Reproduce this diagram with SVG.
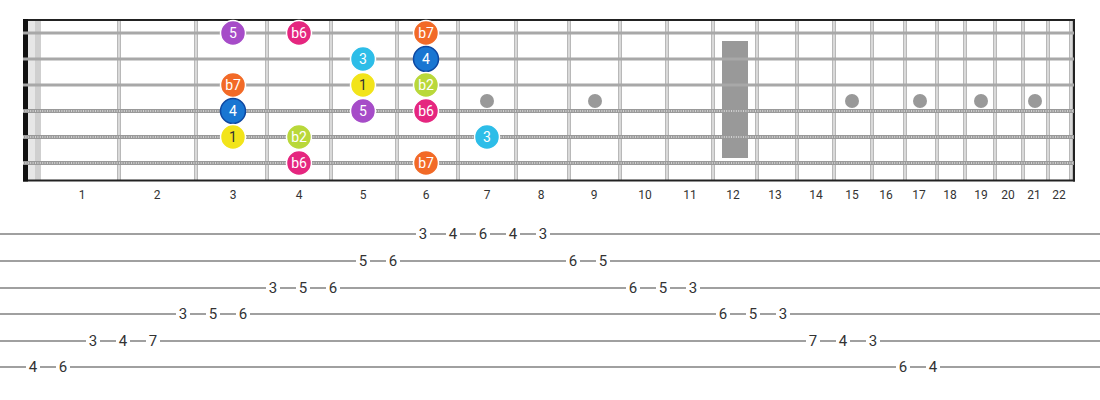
<svg xmlns="http://www.w3.org/2000/svg" width="1100" height="400" viewBox="0 0 1100 400">
<style>
.fret{stroke:#b8b8b8;stroke-width:4}
.fretin{stroke:#f0f0f0;stroke-width:1.2}
.plain{stroke:#a8a8a8;stroke-width:3}
.wound{stroke:#999;stroke-width:4}
.woundin{stroke:#e4e4e4;stroke-width:1.6;stroke-dasharray:1 1.4}
.flab{font-family:Roboto,"Liberation Sans",sans-serif;font-size:12px;fill:#333;text-anchor:middle}
.dot{fill:#999}
.note circle{stroke:#fff;stroke-width:1.5}
.note text{font-family:Roboto,"Liberation Sans",sans-serif;font-size:14px;fill:#fff;text-anchor:middle}
.tabline{stroke:#a0a0a0;stroke-width:2}
.tab text{font-family:Roboto,"Liberation Sans",sans-serif;font-size:15px;fill:#333;text-anchor:middle}
.tab rect{fill:#fff}
</style>
<rect width="1100" height="400" fill="#fff"/>
<g id="fretboard">
<rect x="28" y="20" width="7" height="161" fill="#e6e6e6"/>
<rect x="35" y="20" width="6" height="161" fill="#cfcfcf"/>
<g id="frets">
<line class="fret" x1="119" y1="20" x2="119" y2="181"/><line class="fretin" x1="119" y1="20" x2="119" y2="181"/>
<line class="fret" x1="196" y1="20" x2="196" y2="181"/><line class="fretin" x1="196" y1="20" x2="196" y2="181"/>
<line class="fret" x1="267" y1="20" x2="267" y2="181"/><line class="fretin" x1="267" y1="20" x2="267" y2="181"/>
<line class="fret" x1="331" y1="20" x2="331" y2="181"/><line class="fretin" x1="331" y1="20" x2="331" y2="181"/>
<line class="fret" x1="397" y1="20" x2="397" y2="181"/><line class="fretin" x1="397" y1="20" x2="397" y2="181"/>
<line class="fret" x1="458" y1="20" x2="458" y2="181"/><line class="fretin" x1="458" y1="20" x2="458" y2="181"/>
<line class="fret" x1="516" y1="20" x2="516" y2="181"/><line class="fretin" x1="516" y1="20" x2="516" y2="181"/>
<line class="fret" x1="569" y1="20" x2="569" y2="181"/><line class="fretin" x1="569" y1="20" x2="569" y2="181"/>
<line class="fret" x1="620" y1="20" x2="620" y2="181"/><line class="fretin" x1="620" y1="20" x2="620" y2="181"/>
<line class="fret" x1="667" y1="20" x2="667" y2="181"/><line class="fretin" x1="667" y1="20" x2="667" y2="181"/>
<line class="fret" x1="713" y1="20" x2="713" y2="181"/><line class="fretin" x1="713" y1="20" x2="713" y2="181"/>
<line class="fret" x1="757" y1="20" x2="757" y2="181"/><line class="fretin" x1="757" y1="20" x2="757" y2="181"/>
<line class="fret" x1="797" y1="20" x2="797" y2="181"/><line class="fretin" x1="797" y1="20" x2="797" y2="181"/>
<line class="fret" x1="834" y1="20" x2="834" y2="181"/><line class="fretin" x1="834" y1="20" x2="834" y2="181"/>
<line class="fret" x1="872" y1="20" x2="872" y2="181"/><line class="fretin" x1="872" y1="20" x2="872" y2="181"/>
<line class="fret" x1="905" y1="20" x2="905" y2="181"/><line class="fretin" x1="905" y1="20" x2="905" y2="181"/>
<line class="fret" x1="937" y1="20" x2="937" y2="181"/><line class="fretin" x1="937" y1="20" x2="937" y2="181"/>
<line class="fret" x1="965" y1="20" x2="965" y2="181"/><line class="fretin" x1="965" y1="20" x2="965" y2="181"/>
<line class="fret" x1="995" y1="20" x2="995" y2="181"/><line class="fretin" x1="995" y1="20" x2="995" y2="181"/>
<line class="fret" x1="1023" y1="20" x2="1023" y2="181"/><line class="fretin" x1="1023" y1="20" x2="1023" y2="181"/>
<line class="fret" x1="1048" y1="20" x2="1048" y2="181"/><line class="fretin" x1="1048" y1="20" x2="1048" y2="181"/>
<line class="fret" x1="1071" y1="20" x2="1071" y2="181"/><line class="fretin" x1="1071" y1="20" x2="1071" y2="181"/>
</g>
<g id="inlays">
<rect class="dot" x="722" y="41" width="26" height="117"/>
<circle class="dot" cx="487" cy="101" r="7"/>
<circle class="dot" cx="595" cy="101" r="7"/>
<circle class="dot" cx="852" cy="101" r="7"/>
<circle class="dot" cx="920" cy="101" r="7"/>
<circle class="dot" cx="981" cy="101" r="7"/>
<circle class="dot" cx="1035" cy="101" r="7"/>
</g>
<g id="borders">
<line x1="23" y1="20" x2="1075" y2="20" stroke="#222" stroke-width="2"/>
<line x1="23" y1="180.5" x2="1075" y2="180.5" stroke="#222" stroke-width="2"/>
<line x1="25.5" y1="19" x2="25.5" y2="181.5" stroke="#111" stroke-width="5"/>
<line x1="1074" y1="19" x2="1074" y2="181.5" stroke="#222" stroke-width="2"/>
</g>
<g id="strings">
<line class="plain" x1="23" y1="33" x2="1074" y2="33"/>
<line class="plain" x1="23" y1="59" x2="1074" y2="59"/>
<line class="plain" x1="23" y1="85" x2="1074" y2="85"/>
<line class="wound" x1="23" y1="111" x2="1074" y2="111"/><line class="woundin" x1="23" y1="111" x2="1074" y2="111"/>
<line class="wound" x1="23" y1="137" x2="1074" y2="137"/><line class="woundin" x1="23" y1="137" x2="1074" y2="137"/>
<line class="wound" x1="23" y1="163" x2="1074" y2="163"/><line class="woundin" x1="23" y1="163" x2="1074" y2="163"/>
</g>
<g id="fret-labels">
<text class="flab" x="82" y="199">1</text>
<text class="flab" x="157" y="199">2</text>
<text class="flab" x="233" y="199">3</text>
<text class="flab" x="299" y="199">4</text>
<text class="flab" x="363" y="199">5</text>
<text class="flab" x="426" y="199">6</text>
<text class="flab" x="487" y="199">7</text>
<text class="flab" x="541" y="199">8</text>
<text class="flab" x="594" y="199">9</text>
<text class="flab" x="645" y="199">10</text>
<text class="flab" x="690" y="199">11</text>
<text class="flab" x="733" y="199">12</text>
<text class="flab" x="775" y="199">13</text>
<text class="flab" x="816" y="199">14</text>
<text class="flab" x="852" y="199">15</text>
<text class="flab" x="886" y="199">16</text>
<text class="flab" x="919" y="199">17</text>
<text class="flab" x="950" y="199">18</text>
<text class="flab" x="981" y="199">19</text>
<text class="flab" x="1008" y="199">20</text>
<text class="flab" x="1034" y="199">21</text>
<text class="flab" x="1059" y="199">22</text>
</g>
</g>
<g id="notes">
<g id="n1-3" class="note"><circle cx="233" cy="33" r="12.5" fill="#a64cc8"/><text x="233" y="38">5</text></g>
<g id="n1-4" class="note"><circle cx="299" cy="33" r="12.5" fill="#e5267f"/><text x="299" y="38">b6</text></g>
<g id="n1-6" class="note"><circle cx="426" cy="33" r="12.5" fill="#f26a27"/><text x="426" y="38">b7</text></g>
<g id="n2-5" class="note"><circle cx="363" cy="59" r="12.5" fill="#2dbde8"/><text x="363" y="64">3</text></g>
<g id="n2-6" class="note"><circle cx="426" cy="59" r="12.5" fill="#1976d2" style="stroke:#0d47a1"/><text x="426" y="64">4</text></g>
<g id="n3-3" class="note"><circle cx="233" cy="85" r="12.5" fill="#f26a27"/><text x="233" y="90">b7</text></g>
<g id="n3-5" class="note"><circle cx="363" cy="85" r="12.5" fill="#f2e41a"/><text x="363" y="90" style="fill:#333">1</text></g>
<g id="n3-6" class="note"><circle cx="426" cy="85" r="12.5" fill="#b9d83a"/><text x="426" y="90">b2</text></g>
<g id="n4-3" class="note"><circle cx="233" cy="111" r="12.5" fill="#1976d2" style="stroke:#0d47a1"/><text x="233" y="116">4</text></g>
<g id="n4-5" class="note"><circle cx="363" cy="111" r="12.5" fill="#a64cc8"/><text x="363" y="116">5</text></g>
<g id="n4-6" class="note"><circle cx="426" cy="111" r="12.5" fill="#e5267f"/><text x="426" y="116">b6</text></g>
<g id="n5-3" class="note"><circle cx="233" cy="137" r="12.5" fill="#f2e41a"/><text x="233" y="142" style="fill:#333">1</text></g>
<g id="n5-4" class="note"><circle cx="299" cy="137" r="12.5" fill="#b9d83a"/><text x="299" y="142">b2</text></g>
<g id="n5-7" class="note"><circle cx="487" cy="137" r="12.5" fill="#2dbde8"/><text x="487" y="142">3</text></g>
<g id="n6-4" class="note"><circle cx="299" cy="163" r="12.5" fill="#e5267f"/><text x="299" y="168">b6</text></g>
<g id="n6-6" class="note"><circle cx="426" cy="163" r="12.5" fill="#f26a27"/><text x="426" y="168">b7</text></g>
</g>
<g id="tab" class="tab">
<g id="tab-lines">
<line class="tabline" x1="0" y1="234" x2="1100" y2="234"/>
<line class="tabline" x1="0" y1="261" x2="1100" y2="261"/>
<line class="tabline" x1="0" y1="288" x2="1100" y2="288"/>
<line class="tabline" x1="0" y1="314" x2="1100" y2="314"/>
<line class="tabline" x1="0" y1="341" x2="1100" y2="341"/>
<line class="tabline" x1="0" y1="367" x2="1100" y2="367"/>
</g>
<g id="tab-s1">
<rect x="416" y="226" width="14" height="16"/><text x="423" y="239">3</text>
<rect x="446" y="226" width="14" height="16"/><text x="453" y="239">4</text>
<rect x="476" y="226" width="14" height="16"/><text x="483" y="239">6</text>
<rect x="506" y="226" width="14" height="16"/><text x="513" y="239">4</text>
<rect x="536" y="226" width="14" height="16"/><text x="543" y="239">3</text>
</g>
<g id="tab-s2">
<rect x="356" y="253" width="14" height="16"/><text x="363" y="266">5</text>
<rect x="386" y="253" width="14" height="16"/><text x="393" y="266">6</text>
<rect x="566" y="253" width="14" height="16"/><text x="573" y="266">6</text>
<rect x="596" y="253" width="14" height="16"/><text x="603" y="266">5</text>
</g>
<g id="tab-s3">
<rect x="266" y="280" width="14" height="16"/><text x="273" y="293">3</text>
<rect x="296" y="280" width="14" height="16"/><text x="303" y="293">5</text>
<rect x="326" y="280" width="14" height="16"/><text x="333" y="293">6</text>
<rect x="626" y="280" width="14" height="16"/><text x="633" y="293">6</text>
<rect x="656" y="280" width="14" height="16"/><text x="663" y="293">5</text>
<rect x="686" y="280" width="14" height="16"/><text x="693" y="293">3</text>
</g>
<g id="tab-s4">
<rect x="176" y="306" width="14" height="16"/><text x="183" y="319">3</text>
<rect x="206" y="306" width="14" height="16"/><text x="213" y="319">5</text>
<rect x="236" y="306" width="14" height="16"/><text x="243" y="319">6</text>
<rect x="716" y="306" width="14" height="16"/><text x="723" y="319">6</text>
<rect x="746" y="306" width="14" height="16"/><text x="753" y="319">5</text>
<rect x="776" y="306" width="14" height="16"/><text x="783" y="319">3</text>
</g>
<g id="tab-s5">
<rect x="86" y="333" width="14" height="16"/><text x="93" y="346">3</text>
<rect x="116" y="333" width="14" height="16"/><text x="123" y="346">4</text>
<rect x="146" y="333" width="14" height="16"/><text x="153" y="346">7</text>
<rect x="806" y="333" width="14" height="16"/><text x="813" y="346">7</text>
<rect x="836" y="333" width="14" height="16"/><text x="843" y="346">4</text>
<rect x="866" y="333" width="14" height="16"/><text x="873" y="346">3</text>
</g>
<g id="tab-s6">
<rect x="26" y="359" width="14" height="16"/><text x="33" y="372">4</text>
<rect x="56" y="359" width="14" height="16"/><text x="63" y="372">6</text>
<rect x="896" y="359" width="14" height="16"/><text x="903" y="372">6</text>
<rect x="926" y="359" width="14" height="16"/><text x="933" y="372">4</text>
</g>
</g>
</svg>
